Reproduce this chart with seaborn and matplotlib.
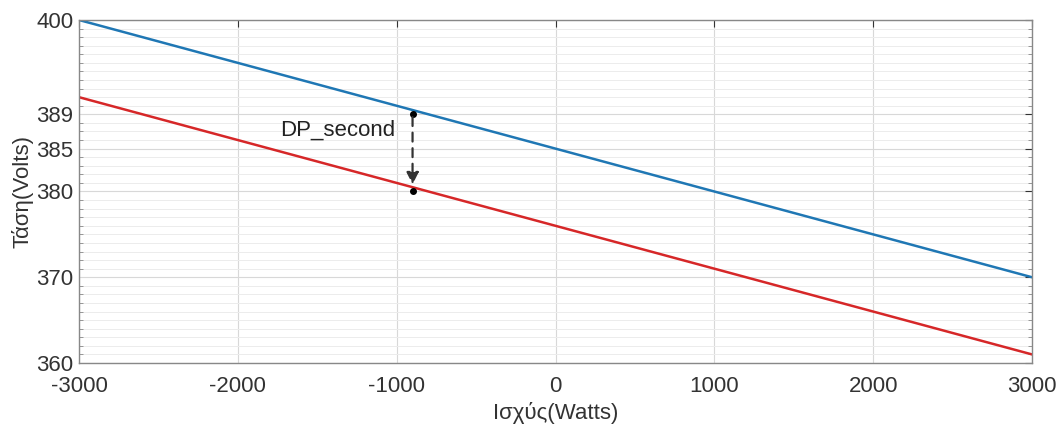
import matplotlib
matplotlib.use("Agg")
import matplotlib.pyplot as plt
from matplotlib.ticker import MultipleLocator
import seaborn as sns
import pandas as pd

# data
power = [-3000, 3000]
v_first = [400, 370]
v_second = [391, 361]
dp_x = -900
dp_top = 389
dp_bottom = 380
xticks = [-3000, -2000, -1000, 0, 1000, 2000, 3000]
yticks = [360, 370, 380, 385, 389, 400]

df = pd.DataFrame({
    "P": power * 2,
    "V": v_first + v_second,
    "curve": ["first"] * 2 + ["second"] * 2,
})

sns.set_style("white")
plt.rcParams["font.family"] = ["Liberation Sans", "DejaVu Sans"]

fig = plt.figure(figsize=(10.6, 4.38), dpi=100)
ax = fig.add_axes([79 / 1060, 1 - 363 / 438, (1032 - 79) / 1060, (363 - 20) / 438])

sns.lineplot(data=df, x="P", y="V", hue="curve",
             palette={"first": "#1f77b4", "second": "#d62728"},
             linewidth=1.8, legend=False, ax=ax)

# DP_second arrow
ax.annotate("", xy=(dp_x, dp_bottom + 0.5), xytext=(dp_x, dp_top),
            arrowprops=dict(arrowstyle="-|>", linestyle=(0, (4, 3)),
                            color="#333333", lw=1.6, mutation_scale=18))
ax.plot([dp_x, dp_x], [dp_top, dp_bottom], "o", color="black", markersize=4)
ax.text(dp_x - 110, 387.2, "DP_second", ha="right", va="center",
        fontsize=16, color="#222222")

ax.set_xlim(-3000, 3000)
ax.set_ylim(360, 400)
ax.set_xticks(xticks)
ax.set_xticklabels([str(t) for t in xticks])
ax.set_yticks(yticks)
ax.yaxis.set_minor_locator(MultipleLocator(1))

ax.grid(True, which="major", color="#d8d8d8", linewidth=0.8)
ax.grid(True, which="minor", axis="y", color="#ececec", linewidth=0.7)
ax.set_axisbelow(True)

for s in ax.spines.values():
    s.set_visible(True)
    s.set_color("#888888")
    s.set_linewidth(1.0)

ax.tick_params(axis="both", which="major", labelsize=16, colors="#333333",
               direction="in", length=5, top=True, right=True)
ax.tick_params(axis="y", which="minor", direction="in", length=3,
               left=True, right=True, color="#888888")
ax.tick_params(axis="x", pad=9)
ax.tick_params(axis="y", pad=4)

ax.set_xlabel("Ισχύς(Watts)", fontsize=16, color="#333333", labelpad=4)
ax.set_ylabel("Τάση(Volts)", fontsize=16, color="#333333", labelpad=2)

fig.savefig("out.png", dpi=100)
